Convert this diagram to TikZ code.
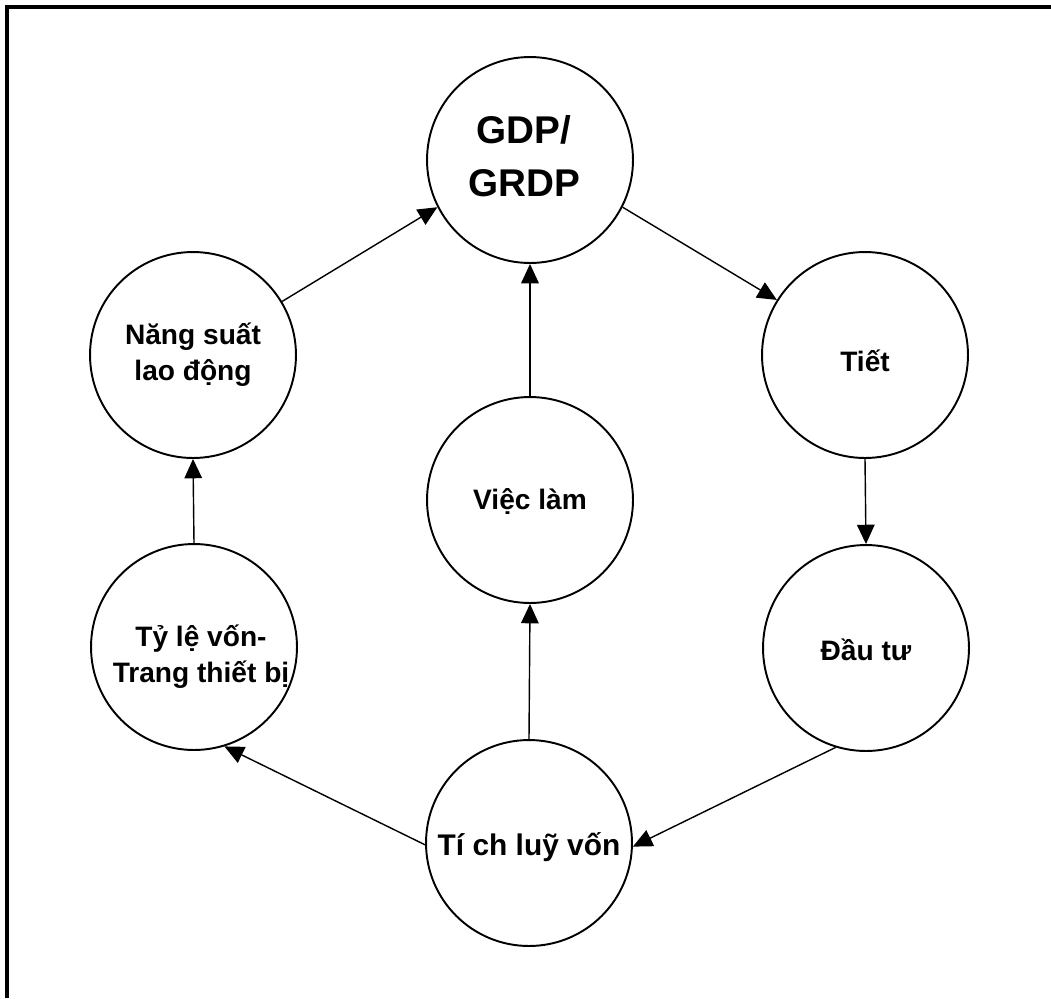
\documentclass[tikz,border=0pt]{standalone}
\usepackage{fontspec}
\setmainfont{Liberation Sans}
\usetikzlibrary{arrows.meta}
\begin{document}
\begin{tikzpicture}[x=0.02cm,y=-0.02cm,
  bub/.style={draw,circle,line width=1.1pt,minimum size=4.12cm,inner sep=0pt},
  lbl/.style={font=\bfseries\fontsize{16}{20.5}\selectfont,align=center,inner sep=0pt},
  big/.style={font=\bfseries\fontsize{22}{30}\selectfont,align=center,inner sep=0pt},
  arr/.style={line width=0.8pt,-{Triangle[length=11pt,width=10pt]}}]
\useasboundingbox (0,0) rectangle (1051,998);
\draw[line width=1.8pt] (7,998) -- (7,7) -- (1051,7);
\node[bub] (gdp) at (530,160) {};
\node[bub] (ns) at (193,355) {};
\node[bub] (ty) at (194,647) {};
\node[bub] (ti) at (865,355) {};
\node[bub] (dt) at (866,648) {};
\node[bub] (vl) at (530,500) {};
\node[bub] (tl) at (529,843) {};
\node[big] (gdptext) at (524,156) {GDP/\\GRDP};
\node[lbl] (nstext) at (193,355) {Năng suất\\lao động};
\node[lbl] (tytext) at (201,657) {Tỷ lệ vốn-\\Trang thiết bị};
\node[lbl] (titext) at (865,361) {Tiết};
\node[lbl] (dttext) at (866,650) {Đầu tư};
\node[lbl] (vltext) at (530,502) {Việc làm};
\node[lbl,font=\bfseries\fontsize{17}{21}\selectfont] (tltext) at (529,847) {Tí ch luỹ vốn};
\draw[arr] (ns.31) -- (gdp.207);
\draw[arr] (gdp.-27) -- (ti.148);
\draw[arr] (ti.south) -- (dt.north);
\draw[arr] (dt.-107) -- (tl.-2);
\draw[arr] (tl.181) -- (ty.-73);
\draw[arr] (tl.north) -- (vl.south);
\draw[arr] (vl.north) -- (gdp.south);
\draw[arr] (ty.north) -- (ns.south);
\end{tikzpicture}
\end{document}
